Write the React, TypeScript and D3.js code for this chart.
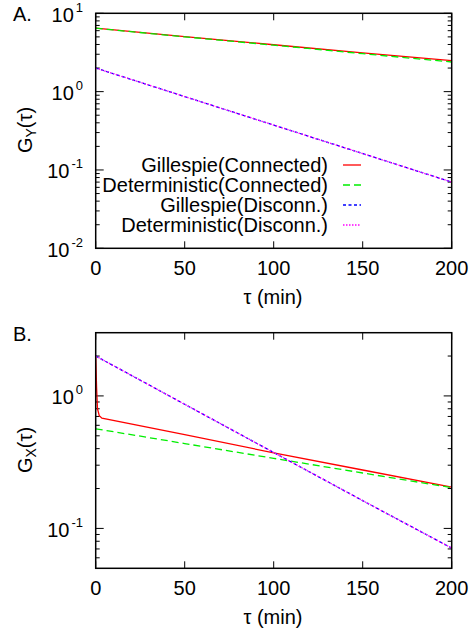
import React from "react";
import * as d3 from "d3";

// ---- data ----
const tauA = [0, 50, 100, 150, 200];
const gillConnA = [6.45, 5.05, 3.97, 3.13, 2.49];
const detConnA = [6.45, 5.0, 3.92, 3.05, 2.39];
const gillDiscA = [2.0, 0.865, 0.374, 0.162, 0.07];
const detDiscA = [2.0, 0.865, 0.374, 0.162, 0.07];

const tauGillConnB = [0, 0.5, 1, 2, 3.5, 50, 100, 150, 200];
const gillConnB = [2.0, 1.15, 0.8, 0.71, 0.68, 0.51, 0.372, 0.276, 0.205];
const tauB = [0, 50, 100, 150, 200];
const detConnB = [0.565, 0.437, 0.338, 0.262, 0.203];
const gillDiscB = [2.0, 0.865, 0.374, 0.162, 0.071];
const detDiscB = [2.0, 0.865, 0.374, 0.162, 0.071];

const xTicks = [0, 50, 100, 150, 200];
const yTicksA = [-2, -1, 0, 1];
const yTicksB = [-1, 0];
const legendLabels = [
  "Gillespie(Connected)",
  "Deterministic(Connected)",
  "Gillespie(Disconn.)",
  "Deterministic(Disconn.)",
];

const colors = ["#ff0000", "#00ee00", "#0000ff", "#ff00ff"];
const dashes = ["none", "7,4", "3,2.5", "1.5,1.5"];

const FONT = "'Liberation Sans', Arial, Helvetica, sans-serif";
const FS = 20;

const X0 = 95.7;
const X1 = 451.7;

type Series = { x: number[]; y: number[]; i: number };

function Panel(props: {
  top: number;
  bottom: number;
  ymin: number;
  ymax: number;
  majors: number[];
  series: Series[];
  label: string;
  labelY: number;
  ylab: string;
  ylabY: number;
  legend: boolean;
  clipId: string;
}) {
  const { top, bottom, ymin, ymax, majors, series, label, labelY, ylab, ylabY, legend, clipId } = props;
  const x = d3.scaleLinear().domain([0, 200]).range([X0, X1]);
  const y = d3.scaleLog().domain([ymin, ymax]).range([bottom, top]);
  const line = d3
    .line<[number, number]>()
    .x((d) => x(d[0]))
    .y((d) => y(d[1]));

  const minors: number[] = [];
  const lo = Math.floor(Math.log10(ymin));
  const hi = Math.ceil(Math.log10(ymax));
  for (let e = lo; e < hi; e++) {
    for (let m = 2; m <= 9; m++) {
      const v = m * Math.pow(10, e);
      if (v > ymin * 1.0001 && v < ymax * 0.9999) minors.push(v);
    }
  }

  return (
    <g>
      <defs>
        <clipPath id={clipId}>
          <rect x={X0} y={top} width={X1 - X0} height={bottom - top} />
        </clipPath>
      </defs>
      {/* x ticks */}
      {xTicks.map((t) => (
        <g key={"xt" + t}>
          <line x1={x(t)} x2={x(t)} y1={bottom} y2={bottom - 7} stroke="#000" strokeWidth={1} />
          <line x1={x(t)} x2={x(t)} y1={top} y2={top + 7} stroke="#000" strokeWidth={1} />
          <text
            x={x(t)}
            y={bottom + 27}
            textAnchor="middle"
            fontFamily={FONT}
            fontSize={FS}
          >
            {t}
          </text>
        </g>
      ))}
      {/* y major ticks */}
      {majors.map((e) => {
        const v = Math.pow(10, e);
        const yy = y(v);
        return (
          <g key={"yt" + e}>
            <line x1={X0} x2={X0 + 8} y1={yy} y2={yy} stroke="#000" strokeWidth={1} />
            <line x1={X1} x2={X1 - 8} y1={yy} y2={yy} stroke="#000" strokeWidth={1} />
            <text x={83} y={yy + 8.5} textAnchor="end" fontFamily={FONT} fontSize={FS}>
              10
              <tspan fontSize={13} dx={2} dy={-10}>
                {String(e)}
              </tspan>
            </text>
          </g>
        );
      })}
      {minors.map((v, k) => (
        <g key={"ym" + k}>
          <line x1={X0} x2={X0 + 4} y1={y(v)} y2={y(v)} stroke="#000" strokeWidth={1} />
          <line x1={X1} x2={X1 - 4} y1={y(v)} y2={y(v)} stroke="#000" strokeWidth={1} />
        </g>
      ))}
      {/* series */}
      <g clipPath={`url(#${clipId})`}>
        {series.map((s, k) => (
          <path
            key={"s" + k}
            d={line(s.x.map((t, j) => [t, s.y[j]] as [number, number])) || ""}
            fill="none"
            stroke={colors[s.i]}
            strokeWidth={1.3}
            strokeDasharray={dashes[s.i]}
          />
        ))}
      </g>
      {/* frame */}
      <rect x={X0} y={top} width={X1 - X0} height={bottom - top} fill="none" stroke="#000" strokeWidth={1.5} />
      {/* legend */}
      {legend &&
        legendLabels.map((l, k) => {
          const ly = 165 + k * 20;
          return (
            <g key={"lg" + k}>
              <text x={328} y={ly + 7} textAnchor="end" fontFamily={FONT} fontSize={FS}>
                {l}
              </text>
              <line
                x1={343}
                x2={361}
                y1={ly}
                y2={ly}
                stroke={colors[k]}
                strokeWidth={1.3}
                strokeDasharray={dashes[k]}
              />
            </g>
          );
        })}
      {/* labels */}
      <text x={13} y={labelY} fontFamily={FONT} fontSize={FS}>
        {label}
      </text>
      <text
        transform={`translate(32,${ylabY}) rotate(-90)`}
        textAnchor="middle"
        fontFamily={FONT}
        fontSize={FS}
      >
        G
        <tspan fontSize={14} dy={4}>
          {ylab}
        </tspan>
        <tspan dy={-4}>(τ)</tspan>
      </text>
      <text x={273} y={bottom + 56} textAnchor="middle" fontFamily={FONT} fontSize={FS}>
        τ (min)
      </text>
    </g>
  );
}

export default function App() {
  const seriesA: Series[] = [
    { x: tauA, y: gillConnA, i: 0 },
    { x: tauA, y: detConnA, i: 1 },
    { x: tauA, y: gillDiscA, i: 2 },
    { x: tauA, y: detDiscA, i: 3 },
  ];
  const seriesB: Series[] = [
    { x: tauGillConnB, y: gillConnB, i: 0 },
    { x: tauB, y: detConnB, i: 1 },
    { x: tauB, y: gillDiscB, i: 2 },
    { x: tauB, y: detDiscB, i: 3 },
  ];
  return (
    <div>
      <style>{"body{margin:0}"}</style>
      <svg width={470} height={635} style={{ display: "block", background: "#fff" }}>
        <Panel
          top={13.3}
          bottom={248.3}
          ymin={0.01}
          ymax={10}
          majors={yTicksA}
          series={seriesA}
          label="A."
          labelY={21}
          ylab="Y"
          ylabY={130}
          legend={true}
          clipId="clipA"
        />
        <Panel
          top={332.7}
          bottom={568.3}
          ymin={0.05}
          ymax={3}
          majors={yTicksB}
          series={seriesB}
          label="B."
          labelY={341}
          ylab="X"
          ylabY={450}
          legend={false}
          clipId="clipB"
        />
      </svg>
    </div>
  );
}
